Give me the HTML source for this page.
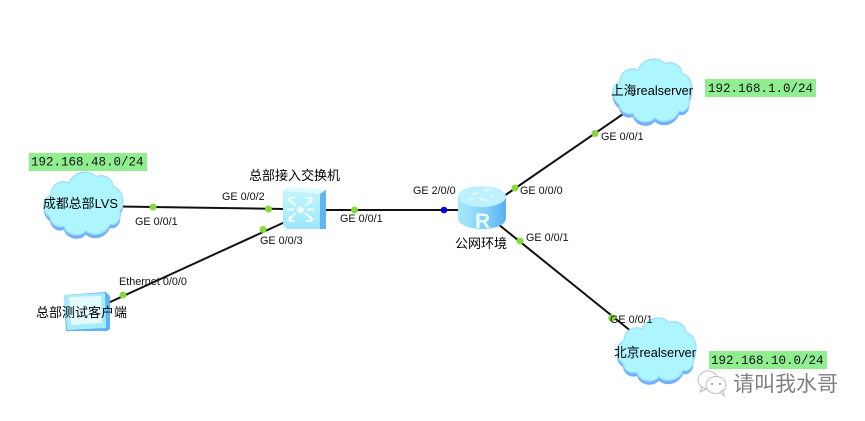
<!DOCTYPE html>
<html><head><meta charset="utf-8">
<style>
html,body{margin:0;padding:0;background:#fff}
svg{display:block}
text{font-family:"Liberation Sans","Noto Sans CJK SC",sans-serif;font-size:10.800px;fill:#111}
.c{font-size:13px;fill:#000}
.m{font-family:"Liberation Mono",monospace;font-size:12.500px;fill:#111}
</style></head><body>
<svg width="865" height="421" viewBox="0 0 865 421" xmlns="http://www.w3.org/2000/svg">
<defs>
<linearGradient id="sw" x1="0" y1="0" x2="0" y2="1"><stop offset="0" stop-color="#c4f6ff"/><stop offset="1" stop-color="#9be8fd"/></linearGradient>
<linearGradient id="rt" x1="0" y1="0" x2="1" y2="0"><stop offset="0" stop-color="#a5e8fb"/><stop offset=".6" stop-color="#7fd0f7"/><stop offset="1" stop-color="#5aaef0"/></linearGradient>
<g id="cloud" transform="scale(1,1.1)">
<path transform="translate(0,3.5)" fill="#6fb2fb" d="M8,44C-1,38 0,26 9,24C8,14 20,9 27,13C31,3 46,-1 54,7C62,4 71,9 71,16C81,18 84,32 78,38C80,46 74,52 68,50C64,60 50,62 44,56C38,63 24,60 22,52C15,54 9,50 8,44Z"/>
<path fill="#adf6ff" stroke="#9edcff" stroke-width="1.2" d="M8,44C-1,38 0,26 9,24C8,14 20,9 27,13C31,3 46,-1 54,7C62,4 71,9 71,16C81,18 84,32 78,38C80,46 74,52 68,50C64,60 50,62 44,56C38,63 24,60 22,52C15,54 9,50 8,44Z"/>
</g>
</defs>
<rect width="865" height="421" fill="#fff"/>
<g stroke="#111" stroke-width="2" fill="none">
<line x1="120" y1="206.500" x2="285" y2="209"/>
<line x1="108" y1="303" x2="285" y2="222"/>
<line x1="325" y1="210" x2="460" y2="210"/>
<line x1="504" y1="196" x2="626" y2="112"/>
<line x1="498" y1="224" x2="632" y2="332"/>
</g>
<use href="#cloud" x="42" y="169"/>
<use href="#cloud" x="611" y="56"/>
<use href="#cloud" x="615" y="315"/>
<!-- switch -->
<path d="M287,187L326,190V229H287L283,225V191Z" fill="url(#sw)"/>
<path d="M283,191L287,187L326,190L320,194Z" fill="#dffbff"/>
<path d="M320,194L326,190V229H320Z" fill="#62b4f3"/>
<g stroke="#f4fdff" stroke-width="2" fill="none">
<path d="M288,199L296,206M288,220L296,213M313,199L305,206M313,220L305,213"/>
<path d="M290,203V198H295M290,216V221H295M311,203V198H306M311,216V221H306M287,209.500H294M307,209.500H314"/>
</g>
<circle cx="300.500" cy="210" r="3.300" fill="#f4fdff"/>
<!-- router -->
<path d="M458,197V218C458,225 470,229 482,229C495,229 506,225 506,218V197Z" fill="url(#rt)"/>
<ellipse cx="482" cy="196.500" rx="24" ry="10.500" fill="#bdf1fd"/>
<path d="M472,195L479,192M480,198L488,201M484,191L491,189M474,200L469,198M490,195L494,197" stroke="#eefcff" stroke-width="1.500" fill="none"/>
<text x="475" y="228" style="font-size:21px;fill:#effcff;font-weight:bold">R</text>
<!-- client -->
<path d="M64,295L106,292L110,296V329L107,331L66,331Z" fill="#5fb2f5"/>
<path d="M64,295L105,293L106,328L67,330Z" fill="#a8ecfc"/>
<path d="M69,297L101,296L102,323L71,325Z" fill="#e3fbff"/>
<!-- dots -->
<g fill="#86d93a">
<circle cx="153" cy="207" r="3.500"/><circle cx="268.500" cy="209" r="3.500"/><circle cx="123" cy="295" r="3.500"/><circle cx="263" cy="229.500" r="3.500"/><circle cx="354.500" cy="210" r="3.500"/><circle cx="515" cy="188" r="3.500"/><circle cx="595" cy="133.500" r="3.500"/><circle cx="520" cy="241" r="3.500"/><circle cx="612" cy="318" r="3.800"/>
</g>
<circle cx="444" cy="210" r="3.300" fill="#0000e0"/>
<!-- port labels -->
<text x="135" y="225">GE 0/0/1</text>
<text x="222" y="200">GE 0/0/2</text>
<text x="260" y="244">GE 0/0/3</text>
<text x="119" y="285">Ethernet 0/0/0</text>
<text x="340" y="222">GE 0/0/1</text>
<text x="413" y="194">GE 2/0/0</text>
<text x="520" y="194">GE 0/0/0</text>
<text x="526" y="241">GE 0/0/1</text>
<text x="601" y="140">GE 0/0/1</text>
<text x="610" y="323">GE 0/0/1</text>
<!-- node labels -->
<text class="c" x="43" y="208" textLength="75" lengthAdjust="spacingAndGlyphs">成都总部LVS</text>
<text class="c" x="36" y="317">总部测试客户端</text>
<text class="c" x="249" y="180">总部接入交换机</text>
<text class="c" x="455" y="248">公网环境</text>
<text class="c" x="611" y="95" textLength="82" lengthAdjust="spacingAndGlyphs">上海realserver</text>
<text class="c" x="614" y="357" textLength="82" lengthAdjust="spacingAndGlyphs">北京realserver</text>
<!-- network labels -->
<rect x="29" y="153" width="118" height="18" fill="#90ee90"/>
<text class="m" x="31" y="165.500">192.168.48.0/24</text>
<rect x="705" y="79" width="111" height="18" fill="#90ee90"/>
<text class="m" x="708" y="92">192.168.1.0/24</text>
<rect x="709" y="351" width="118" height="18" fill="#90ee90"/>
<text class="m" x="711" y="364">192.168.10.0/24</text>
<!-- watermark -->
<g fill="#fff" stroke="#bdbdbd" stroke-width="1">
<ellipse cx="708" cy="380" rx="10" ry="9"/>
<path d="M702,387L700,392L706,389Z"/>
<ellipse cx="716" cy="385" rx="10" ry="8.500"/>
<path d="M720,392L724,396L723,390Z"/>
</g>
<circle cx="712" cy="384" r="1" fill="#888"/><circle cx="720" cy="384" r="1" fill="#888"/>
<text x="733" y="391" style="font-size:21px;fill:#808080">请叫我水哥</text>
</svg>
</body></html>
